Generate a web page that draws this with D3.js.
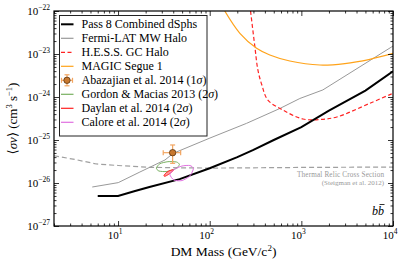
<!DOCTYPE html>
<html><head><meta charset="utf-8">
<script src="https://cdn.jsdelivr.net/npm/d3@7"></script>
<style>
html,body{margin:0;padding:0;background:#fff;}
svg{display:block;}
text{font-family:"Liberation Serif","DejaVu Serif",serif;}
</style></head>
<body>
<svg id="c" width="407" height="265"></svg>
<script>
// ---------------- data ----------------
const xMajor = [10, 100, 1000, 10000];
const xMajorExp = ["1", "2", "3", "4"];
const yMajor = [1e-27, 1e-26, 1e-25, 1e-24, 1e-23, 1e-22];
const yMajorExp = ["−27", "−26", "−25", "−24", "−23", "−22"];

const dsphMass = [6, 10, 15, 22, 47, 100, 200, 300, 500, 1000, 2000, 5000, 10000];
const dsphSv   = [5.0e-27, 5.0e-27, 6.4e-27, 8.1e-27, 1.23e-26, 2.2e-26, 3.98e-26, 5.89e-26, 1.0e-25, 2.0e-25, 4.8e-25, 1.41e-24, 3.98e-24];

const mwMass = [5.23, 10.05, 17.3, 32.5, 40.0, 100.5, 252.6, 583, 963, 1716, 10000];
const mwSv   = [8.07e-27, 1.02e-26, 1.80e-26, 3.43e-26, 4.9e-26, 1.11e-25, 2.44e-25, 5.41e-25, 9.23e-25, 1.46e-24, 1.53e-23];

const hessMass = [279, 311, 335.5, 371, 431, 628, 1039, 1591, 2439, 5585, 10000];
const hessSv   = [1.0e-22, 1.48e-23, 4.25e-24, 1.90e-24, 8.5e-25, 4.99e-25, 3.08e-25, 3.0e-25, 3.43e-25, 7.13e-25, 1.22e-24];

const magicMass = [146, 213.5, 324.8, 453, 749, 1591, 2982, 5585, 10000];
const magicSv   = [1.0e-22, 3.03e-23, 1.36e-23, 9.5e-24, 6.87e-24, 5.55e-24, 6.0e-24, 7.53e-24, 1.03e-23];

const relicMass = [2, 3.4, 5.8, 10, 22, 47, 100, 1000, 10000];
const relicSv   = [4.31e-26, 3.52e-26, 2.77e-26, 2.55e-26, 2.32e-26, 2.26e-26, 2.22e-26, 2.3e-26, 2.35e-26];

// Abazajian et al. 2014 point (1 sigma)
const abazMass = 39.4, abazMassLo = 31.1, abazMassHi = 48.2;
const abazSv = 5.07e-26, abazSvLo = 2.87e-26, abazSvHi = 7.66e-26;

// 2 sigma contours
const gordonMass = [26.2, 28.6, 35.0, 43.4, 46.7, 42.8, 34.1, 27.9];
const gordonSv   = [2.23e-26, 2.81e-26, 3.13e-26, 3.08e-26, 2.69e-26, 2.17e-26, 1.85e-26, 1.90e-26];
const daylanMass = [31.7, 33.7, 36.8, 40.2, 38.7, 35.5, 32.5];
const daylanSv   = [1.49e-26, 1.75e-26, 1.95e-26, 2.03e-26, 1.82e-26, 1.58e-26, 1.43e-26];
const caloreMass = [36.8, 40.7, 49.8, 60.8, 66.4, 60.8, 49.8, 40.7];
const caloreSv   = [1.58e-26, 2.06e-26, 2.48e-26, 2.55e-26, 2.17e-26, 1.46e-26, 1.14e-26, 1.17e-26];

const legendLabels = ["Pass 8 Combined dSphs", "Fermi-LAT MW Halo", "H.E.S.S. GC Halo", "MAGIC Segue 1",
  "Abazajian et al. 2014 (1σ)", "Gordon & Macias 2013 (2σ)", "Daylan et al. 2014 (2σ)", "Calore et al. 2014 (2σ)"];

// ---------------- chart ----------------
const svg = d3.select("#c");
const L = 54, R = 393, T = 11, B = 226;
const x = d3.scaleLog().domain([2, 1e4]).range([L, R]);
const y = d3.scaleLog().domain([1e-27, 1e-22]).range([B, T]);

svg.append("defs").append("clipPath").attr("id", "clip")
  .append("rect").attr("x", L).attr("y", T).attr("width", R - L).attr("height", B - T);

const col = {
  dsph: "#000", mw: "#999999", hess: "#ff2222", magic: "#ffa31a", relic: "#a0a0a0",
  gordon: "#78b060", daylan: "#ff2020", calore: "#e070e0", errbar: "#f2a560", dotFill: "#c8782e", dotEdge: "#5a3510"
};

const zip = (a, b) => a.map((m, i) => [m, b[i]]);
const line = d3.line().x(d => x(d[0])).y(d => y(d[1]));
const closed = d3.line().x(d => x(d[0])).y(d => y(d[1])).curve(d3.curveCardinalClosed.tension(0.3));
const smooth = d3.line().x(d => x(d[0])).y(d => y(d[1])).curve(d3.curveCatmullRom);

const plot = svg.append("g").attr("clip-path", "url(#clip)");

// thermal relic
plot.append("path").attr("d", line(zip(relicMass, relicSv)))
  .attr("fill", "none").attr("stroke", col.relic).attr("stroke-width", 1.2).attr("stroke-dasharray", "5,3");
// MW halo
plot.append("path").attr("d", line(zip(mwMass, mwSv)))
  .attr("fill", "none").attr("stroke", col.mw).attr("stroke-width", 1);
// HESS
plot.append("path").attr("d", smooth(zip(hessMass, hessSv)))
  .attr("fill", "none").attr("stroke", col.hess).attr("stroke-width", 1.2).attr("stroke-dasharray", "4,2.5");
// MAGIC
plot.append("path").attr("d", smooth(zip(magicMass, magicSv)))
  .attr("fill", "none").attr("stroke", col.magic).attr("stroke-width", 1.2);
// dSph combined
plot.append("path").attr("d", line(zip(dsphMass, dsphSv)))
  .attr("fill", "none").attr("stroke", col.dsph).attr("stroke-width", 2);

// contours
plot.append("path").attr("d", closed(zip(gordonMass, gordonSv)))
  .attr("fill", "none").attr("stroke", col.gordon).attr("stroke-width", 1);
plot.append("path").attr("d", closed(zip(daylanMass, daylanSv)))
  .attr("fill", "#ff9a9a").attr("stroke", col.daylan).attr("stroke-width", 1);
plot.append("path").attr("d", closed(zip(caloreMass, caloreSv)))
  .attr("fill", "none").attr("stroke", col.calore).attr("stroke-width", 1);

// Abazajian error bars
const eb = plot.append("g").attr("stroke", col.errbar).attr("stroke-width", 1.2);
eb.append("line").attr("x1", x(abazMassLo)).attr("x2", x(abazMassHi)).attr("y1", y(abazSv)).attr("y2", y(abazSv));
eb.append("line").attr("x1", x(abazMass)).attr("x2", x(abazMass)).attr("y1", y(abazSvLo)).attr("y2", y(abazSvHi));
[abazMassLo, abazMassHi].forEach(m => eb.append("line").attr("x1", x(m)).attr("x2", x(m)).attr("y1", y(abazSv) - 2.5).attr("y2", y(abazSv) + 2.5));
[abazSvLo, abazSvHi].forEach(v => eb.append("line").attr("x1", x(abazMass) - 2.5).attr("x2", x(abazMass) + 2.5).attr("y1", y(v)).attr("y2", y(v)));
plot.append("circle").attr("cx", x(abazMass)).attr("cy", y(abazSv)).attr("r", 3.2)
  .attr("fill", col.dotFill).attr("stroke", col.dotEdge).attr("stroke-width", 0.8);

// ---------------- axes ----------------
const minor = [];
for (let e = 0; e <= 4; e++) for (let k = 2; k <= 9; k++) { const v = k * Math.pow(10, e); if (v >= 2 && v <= 1e4 && !xMajor.includes(v)) minor.push(v); }
const yMinor = [];
for (let e = -27; e < -22; e++) for (let k = 2; k <= 9; k++) yMinor.push(k * Math.pow(10, e));

function axisStyle(g) { g.select(".domain").remove(); g.selectAll("line").attr("stroke", "#000").attr("stroke-width", 0.8); g.selectAll("text").remove(); }
svg.append("g").attr("transform", `translate(0,${B})`).call(d3.axisBottom(x).tickValues(xMajor).tickSize(-5)).call(axisStyle);
svg.append("g").attr("transform", `translate(0,${B})`).call(d3.axisBottom(x).tickValues(minor).tickSize(-2.5)).call(axisStyle);
svg.append("g").attr("transform", `translate(0,${T})`).call(d3.axisTop(x).tickValues(xMajor).tickSize(-5)).call(axisStyle);
svg.append("g").attr("transform", `translate(0,${T})`).call(d3.axisTop(x).tickValues(minor).tickSize(-2.5)).call(axisStyle);
svg.append("g").attr("transform", `translate(${L},0)`).call(d3.axisLeft(y).tickValues(yMajor).tickSize(-5)).call(axisStyle);
svg.append("g").attr("transform", `translate(${L},0)`).call(d3.axisLeft(y).tickValues(yMinor).tickSize(-2.5)).call(axisStyle);
svg.append("g").attr("transform", `translate(${R},0)`).call(d3.axisRight(y).tickValues(yMajor).tickSize(-5)).call(axisStyle);
svg.append("g").attr("transform", `translate(${R},0)`).call(d3.axisRight(y).tickValues(yMinor).tickSize(-2.5)).call(axisStyle);

svg.append("rect").attr("x", L).attr("y", T).attr("width", R - L).attr("height", B - T)
  .attr("fill", "none").attr("stroke", "#000").attr("stroke-width", 1.2);

// tick labels
xMajor.forEach((v, i) => {
  const t = svg.append("text").attr("x", x(v) - 3).attr("y", B + 13).attr("text-anchor", "middle").attr("font-size", 11);
  t.append("tspan").text("10");
  t.append("tspan").attr("dy", -5).attr("font-size", 7.5).text(xMajorExp[i]);
});
yMajor.forEach((v, i) => {
  const t = svg.append("text").attr("x", L - 4).attr("y", y(v) + 4).attr("text-anchor", "end").attr("font-size", 11);
  t.append("tspan").text("10");
  t.append("tspan").attr("dy", -5).attr("font-size", 7.5).text(yMajorExp[i]);
});

// axis labels
const xl = svg.append("text").attr("x", (L + R) / 2).attr("y", 256).attr("text-anchor", "middle").attr("font-size", 13.5);
xl.append("tspan").text("DM Mass (GeV/c");
xl.append("tspan").attr("dy", -5).attr("font-size", 9).text("2");
xl.append("tspan").attr("dy", 5).text(")");

const yl = svg.append("text").attr("transform", `translate(17,${(T + B) / 2}) rotate(-90)`).attr("text-anchor", "middle").attr("font-size", 13);
yl.append("tspan").text("⟨");
yl.append("tspan").attr("font-style", "italic").text("σv");
yl.append("tspan").text("⟩ (cm");
yl.append("tspan").attr("dy", -5).attr("font-size", 8.5).text("3");
yl.append("tspan").attr("dy", 5).text(" s");
yl.append("tspan").attr("dy", -5).attr("font-size", 8.5).text("−1");
yl.append("tspan").attr("dy", 5).text(")");

// thermal relic text
svg.append("text").attr("x", 384).attr("y", 177).attr("text-anchor", "end").attr("font-size", 7.2).attr("fill", "#999")
  .attr("textLength", 87).attr("lengthAdjust", "spacing").text("Thermal Relic Cross Section");
svg.append("text").attr("x", 384).attr("y", 185).attr("text-anchor", "end").attr("font-size", 7).attr("fill", "#999").text("(Steigman et al. 2012)");

// b bbar
const bb = svg.append("text").attr("x", 384).attr("y", 215).attr("text-anchor", "end").attr("font-size", 12).attr("font-style", "italic").text("bb");
const ext = bb.node().getExtentOfChar(1);
svg.append("line").attr("x1", ext.x + 1.5).attr("x2", ext.x + ext.width + 0.5)
  .attr("y1", 204.5).attr("y2", 204.5).attr("stroke", "#000").attr("stroke-width", 0.8);

// ---------------- legend ----------------
const lg = svg.append("g");
lg.append("rect").attr("x", 59.5).attr("y", 15.5).attr("width", 147.5).attr("height", 120.5)
  .attr("fill", "#fff").attr("stroke", "#222").attr("stroke-width", 1);
const legStyles = [
  {c: col.dsph, w: 2}, {c: col.mw, w: 1.2}, {c: col.hess, w: 1.2, d: "4,2.5"}, {c: col.magic, w: 1.2},
  {marker: true}, {c: col.gordon, w: 1.2}, {c: col.daylan, w: 1.2}, {c: col.calore, w: 1.2}
];
legendLabels.forEach((lab, i) => {
  const cy = 24.3 + 14 * i;
  const s = legStyles[i];
  if (s.marker) {
    lg.append("line").attr("x1", 61.5).attr("x2", 72.5).attr("y1", cy).attr("y2", cy).attr("stroke", col.errbar).attr("stroke-width", 1.2);
    lg.append("line").attr("x1", 67).attr("x2", 67).attr("y1", cy - 5.5).attr("y2", cy + 5.5).attr("stroke", col.errbar).attr("stroke-width", 1.2);
    [61.5, 72.5].forEach(xx => lg.append("line").attr("x1", xx).attr("x2", xx).attr("y1", cy - 2.5).attr("y2", cy + 2.5).attr("stroke", col.errbar).attr("stroke-width", 1.2));
    [cy - 5.5, cy + 5.5].forEach(yy => lg.append("line").attr("x1", 64.5).attr("x2", 69.5).attr("y1", yy).attr("y2", yy).attr("stroke", col.errbar).attr("stroke-width", 1.2));
    lg.append("circle").attr("cx", 67).attr("cy", cy).attr("r", 3.2).attr("fill", col.dotFill).attr("stroke", col.dotEdge).attr("stroke-width", 0.8);
  } else {
    lg.append("line").attr("x1", 61).attr("x2", 73.5).attr("y1", cy).attr("y2", cy)
      .attr("stroke", s.c).attr("stroke-width", s.w).attr("stroke-dasharray", s.d || null);
  }
  const t = lg.append("text").attr("x", 81.5).attr("y", cy + 3.8).attr("font-size", 12);
  const parts = lab.split("σ");
  t.append("tspan").text(parts[0]);
  if (parts.length > 1) {
    t.append("tspan").attr("font-style", "italic").text("σ");
    t.append("tspan").text(parts[1]);
  }
});
</script>
</body></html>
